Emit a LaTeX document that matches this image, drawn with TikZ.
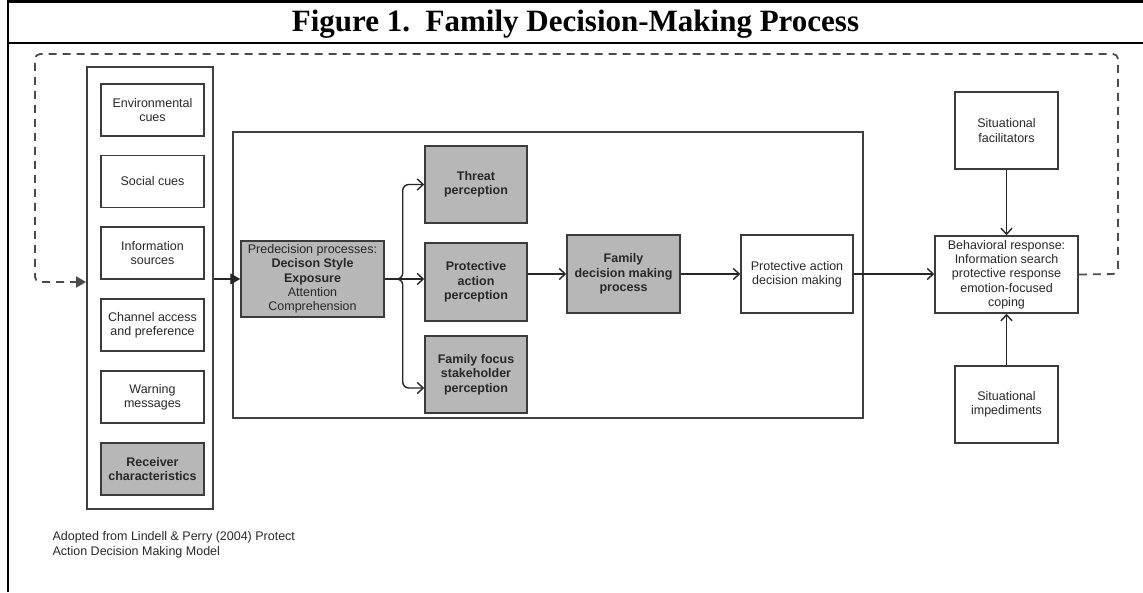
\documentclass[tikz,border=0pt]{standalone}
\usepackage{fontspec}
\setmainfont{Liberation Sans}
\newfontfamily\titlefont{Liberation Serif}
\usetikzlibrary{positioning, arrows.meta}
\definecolor{boxgray}{RGB}{183,183,183}
\definecolor{linegray}{RGB}{60,60,60}
\definecolor{textgray}{RGB}{40,40,40}
\tikzset{
    box/.style={draw=linegray, line width=1.5pt, fill=white, align=center, text=textgray,
        font=\fontsize{12.5}{14.3}\selectfont, inner sep=1pt, minimum width=103pt, minimum height=52pt},
    greybox/.style={box, fill=boxgray, font=\fontsize{12.5}{14.3}\selectfont\bfseries},
    frame/.style={draw=black!75, line width=1.8pt, minimum width=#1},
    flow/.style={draw=black!85, line width=1.4pt, -{Straight Barb[length=6pt,width=11pt]}},
    push/.style={draw=black!85, line width=1.4pt, -{Triangle[length=10pt,width=11pt]}},
    feed/.style={draw=black!70, line width=1.8pt, dash pattern=on 8pt off 6pt, rounded corners=5pt,
        -{Triangle[length=10pt,width=11pt]}}
}

\begin{document}
\begin{tikzpicture}[x=1pt, y=-1pt]
    \useasboundingbox (0,0) rectangle (1143,592);
    % page frame and heading
    \draw[line width=2.6pt] (8,592) -- (8,1.5) -- (1143,1.5);
    \draw[line width=2.6pt] (8,43) -- (1143,43);
    \node (title) [anchor=base, inner sep=0pt] at (575.5,31)
        {\titlefont\bfseries\fontsize{31}{31}\selectfont Figure 1.\ \ Family Decision-Making Process};

    % containers
    \node (cues) [frame=126pt, minimum height=442pt] at (150,288) {};
    \node (stage) [frame=630pt, minimum height=286pt] at (548,275) {};

    % cues column
    \node (env) [box] at (152.5,110) {Environmental\\cues};
    \node (social) [box] at (152.5,181.5) {Social cues};
    \node (info) [box] at (152.5,253) {Information\\sources};
    \node (channel) [box] at (152.5,325) {Channel access\\and preference};
    \node (warn) [box] at (152.5,397) {Warning\\messages};
    \node (receiver) [greybox] at (152.5,469) {Receiver\\characteristics};

    % decision stage
    \node (pre) [box, fill=boxgray, minimum width=143pt, minimum height=76pt] at (312.5,279)
        {Predecision processes:\\\textbf{Decison Style}\\\textbf{Exposure}\\Attention\\Comprehension};
    \node (threat) [greybox, minimum width=102pt, minimum height=77pt] at (476,184.5) {Threat\\perception};
    \node (protect) [greybox, minimum width=102pt, minimum height=78pt] at (476,282) {Protective\\action\\perception};
    \node (stake) [greybox, minimum width=102pt, minimum height=77pt] at (476,374.5) {Family focus\\stakeholder\\perception};
    \node (family) [greybox, minimum width=113pt, minimum height=78pt] at (623.5,274) {Family\\decision making\\process};
    \node (choice) [box, minimum width=112pt, minimum height=78pt] at (797,274) {Protective action\\decision making};

    % response side
    \node (behav) [box, minimum width=143pt, minimum height=77pt] at (1006.5,274.5)
        {Behavioral response:\\Information search\\protective response\\emotion-focused\\coping};
    \node (facil) [box, minimum height=77pt] at (1006.5,130.5) {Situational\\facilitators};
    \node (imped) [box, minimum height=77pt] at (1006.5,404.5) {Situational\\impediments};

    \node (source) [anchor=north west, align=left, text=textgray, font=\fontsize{12.5}{15}\selectfont] at (49,528)
        {Adopted from Lindell \& Perry (2004) Protect\\Action Decision Making Model};

    % connectors
    \draw[push] (cues.east |- pre.west) -- (pre.west);
    \draw[flow] (pre.east) -- (pre.east -| protect.west);
    \draw[flow, rounded corners=6pt] (pre.east) -- ++(18,0) |- (threat.west);
    \draw[flow, rounded corners=6pt] (pre.east) -- ++(18,0) |- ([yshift=-13.5pt]stake.west);
    \draw[flow] (family.west -| protect.east) -- (family.west);
    \draw[flow] (family.east) -- (choice.west);
    \draw[flow] (choice.east) -- (choice.east -| behav.west);
    \draw[flow] (facil) -- (behav);
    \draw[flow] (imped) -- (behav);
    \draw[feed] (behav.east) -- (1118,274) -- (1118,54) -- (35,54) -- (35,282) -- (cues.west |- 0,282);
\end{tikzpicture}
\end{document}
